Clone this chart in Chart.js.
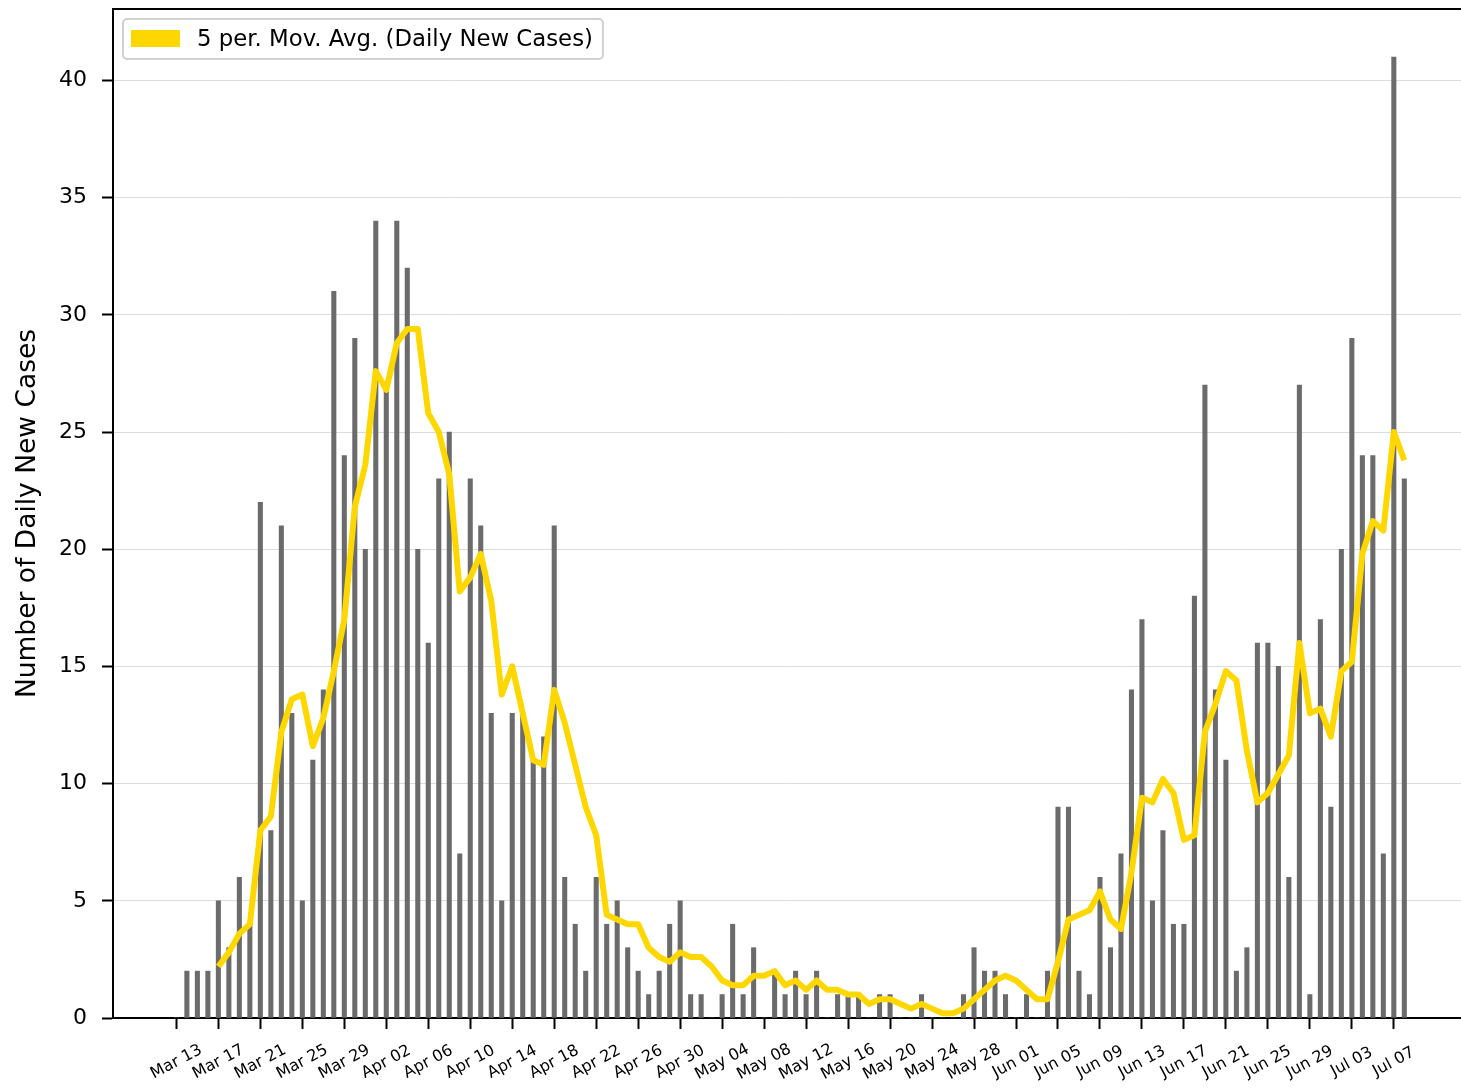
<!DOCTYPE html>
<html lang="en">
<head>
<meta charset="UTF-8">
<title>Daily New Cases</title>
<script src="https://cdn.jsdelivr.net/npm/chart.js"></script>
<style>
  html, body { margin: 0; padding: 0; background: #fff; }
  canvas { display: block; }
</style>
</head>
<body>
<canvas id="casesChart" width="1461" height="1091"></canvas>
<script>
const dates = [
  'Mar 13','Mar 14','Mar 15','Mar 16','Mar 17','Mar 18','Mar 19','Mar 20','Mar 21','Mar 22',
  'Mar 23','Mar 24','Mar 25','Mar 26','Mar 27','Mar 28','Mar 29','Mar 30','Mar 31',
  'Apr 01','Apr 02','Apr 03','Apr 04','Apr 05','Apr 06','Apr 07','Apr 08','Apr 09','Apr 10',
  'Apr 11','Apr 12','Apr 13','Apr 14','Apr 15','Apr 16','Apr 17','Apr 18','Apr 19','Apr 20',
  'Apr 21','Apr 22','Apr 23','Apr 24','Apr 25','Apr 26','Apr 27','Apr 28','Apr 29','Apr 30',
  'May 01','May 02','May 03','May 04','May 05','May 06','May 07','May 08','May 09','May 10',
  'May 11','May 12','May 13','May 14','May 15','May 16','May 17','May 18','May 19','May 20',
  'May 21','May 22','May 23','May 24','May 25','May 26','May 27','May 28','May 29','May 30','May 31',
  'Jun 01','Jun 02','Jun 03','Jun 04','Jun 05','Jun 06','Jun 07','Jun 08','Jun 09','Jun 10',
  'Jun 11','Jun 12','Jun 13','Jun 14','Jun 15','Jun 16','Jun 17','Jun 18','Jun 19','Jun 20',
  'Jun 21','Jun 22','Jun 23','Jun 24','Jun 25','Jun 26','Jun 27','Jun 28','Jun 29','Jun 30',
  'Jul 01','Jul 02','Jul 03','Jul 04','Jul 05','Jul 06','Jul 07','Jul 08'
];

const dailyCases = [
  0, 2, 2, 2, 5, 3, 6, 4, 22, 8,
  21, 13, 5, 11, 14, 31, 24, 29, 20,
  34, 27, 34, 32, 20, 16, 23, 25, 7, 23,
  21, 13, 5, 13, 13, 11, 12, 21, 6, 4,
  2, 6, 4, 5, 3, 2, 1, 2, 4, 5,
  1, 1, 0, 1, 4, 1, 3, 0, 2, 1,
  2, 1, 2, 0, 1, 1, 1, 0, 1, 1,
  0, 0, 1, 0, 0, 0, 1, 3, 2, 2, 1,
  0, 1, 0, 2, 9, 9, 2, 1, 6, 3,
  7, 14, 17, 5, 8, 4, 4, 18, 27, 14,
  11, 2, 3, 16, 16, 15, 6, 27, 1, 17,
  9, 20, 29, 24, 24, 7, 41, 23
];

const movingAvg = [
  null, null, null, null, 2.2, 2.8, 3.6, 4.0, 8.0, 8.6,
  12.2, 13.6, 13.8, 11.6, 12.8, 14.8, 17.0, 21.8, 23.6,
  27.6, 26.8, 28.8, 29.4, 29.4, 25.8, 25.0, 23.2, 18.2, 18.8,
  19.8, 17.8, 13.8, 15.0, 13.0, 11.0, 10.8, 14.0, 12.6, 10.8,
  9.0, 7.8, 4.4, 4.2, 4.0, 4.0, 3.0, 2.6, 2.4, 2.8,
  2.6, 2.6, 2.2, 1.6, 1.4, 1.4, 1.8, 1.8, 2.0, 1.4,
  1.6, 1.2, 1.6, 1.2, 1.2, 1.0, 1.0, 0.6, 0.8, 0.8,
  0.6, 0.4, 0.6, 0.4, 0.2, 0.2, 0.4, 0.8, 1.2, 1.6, 1.8,
  1.6, 1.2, 0.8, 0.8, 2.4, 4.2, 4.4, 4.6, 5.4, 4.2,
  3.8, 6.2, 9.4, 9.2, 10.2, 9.6, 7.6, 7.8, 12.2, 13.4,
  14.8, 14.4, 11.4, 9.2, 9.6, 10.4, 11.2, 16.0, 13.0, 13.2,
  12.0, 14.8, 15.2, 19.8, 21.2, 20.8, 25.0, 23.8
];

const tickLabels = [
  'Mar 13','Mar 17','Mar 21','Mar 25','Mar 29','Apr 02','Apr 06','Apr 10','Apr 14','Apr 18',
  'Apr 22','Apr 26','Apr 30','May 04','May 08','May 12','May 16','May 20','May 24','May 28',
  'Jun 01','Jun 05','Jun 09','Jun 13','Jun 17','Jun 21','Jun 25','Jun 29','Jul 03','Jul 07'
];

const yTicks = [0, 5, 10, 15, 20, 25, 30, 35, 40];

const FONT = 'DejaVu Sans';

const barPoints = dates.map((d, i) => ({ x: i, y: dailyCases[i] }));
const avgPoints = dates.map((d, i) => ({ x: i, y: movingAvg[i] })).filter(p => p.y !== null);

// top spine, rotated date labels and the legend box inside the plot
const decorations = {
  id: 'decorations',
  afterDraw(chart) {
    const ctx = chart.ctx;
    const area = chart.chartArea;
    const xScale = chart.scales.x;
    ctx.save();

    ctx.strokeStyle = '#000';
    ctx.lineWidth = 2;
    ctx.beginPath();
    ctx.moveTo(area.left - 1, area.top);
    ctx.lineTo(area.right, area.top);
    ctx.stroke();

    ctx.fillStyle = '#000';
    ctx.font = '16px "' + FONT + '"';
    ctx.textAlign = 'center';
    ctx.textBaseline = 'middle';
    xScale.ticks.forEach((t, i) => {
      const px = xScale.getPixelForValue(t.value);
      ctx.save();
      ctx.translate(px, area.bottom + 44);
      ctx.rotate(-28 * Math.PI / 180);
      ctx.fillText(tickLabels[i], 0, 0);
      ctx.restore();
    });

    const label = chart.data.datasets[0].label;
    ctx.font = '22.8px "' + FONT + '"';
    const bx = area.left + 10, by = area.top + 10;
    const bw = 74 + ctx.measureText(label).width + 10, bh = 40;
    ctx.beginPath();
    ctx.roundRect(bx, by, bw, bh, 4);
    ctx.fillStyle = 'rgba(255,255,255,0.8)';
    ctx.fill();
    ctx.strokeStyle = '#d0d0d0';
    ctx.lineWidth = 2;
    ctx.stroke();
    ctx.fillStyle = chart.data.datasets[0].borderColor;
    ctx.fillRect(bx + 8, by + 11, 49, 17);
    ctx.fillStyle = '#000';
    ctx.textAlign = 'left';
    ctx.textBaseline = 'middle';
    ctx.fillText(label, bx + 74, by + bh / 2 + 1.5);

    ctx.restore();
  }
};

new Chart(document.getElementById('casesChart'), {
  type: 'bar',
  data: {
    datasets: [
      {
        type: 'line',
        label: '5 per. Mov. Avg. (Daily New Cases)',
        data: avgPoints,
        borderColor: '#FFD700',
        borderWidth: 6,
        pointRadius: 0,
        tension: 0,
        borderJoinStyle: 'round',
        order: 0
      },
      {
        type: 'bar',
        label: 'Daily New Cases',
        data: barPoints,
        backgroundColor: '#6b6b6b',
        barThickness: 4.4,
        order: 1
      }
    ]
  },
  options: {
    responsive: false,
    animation: false,
    devicePixelRatio: 1,
    layout: { padding: { top: 9, left: 0, right: 0, bottom: 0 } },
    plugins: {
      legend: { display: false },
      tooltip: { enabled: false }
    },
    scales: {
      x: {
        type: 'linear',
        min: -6.04,
        max: 122.4,
        offset: false,
        grid: { offset: false, drawOnChartArea: false, drawTicks: true, tickLength: 11, tickWidth: 2, tickColor: '#000' },
        border: { color: '#000', width: 2 },
        ticks: { display: false },
        afterBuildTicks: s => { s.ticks = tickLabels.map(l => ({ value: dates.indexOf(l) })); },
        afterFit: s => { s.height = 73; s.paddingLeft = 0; s.paddingRight = 0; }
      },
      y: {
        min: 0,
        max: 43.05,
        grid: { color: '#dcdcdc', lineWidth: 1, tickLength: 11, tickWidth: 2, tickColor: '#000' },
        border: { color: '#000', width: 2 },
        ticks: { font: { family: FONT, size: 22 }, color: '#000', padding: 15, includeBounds: false },
        afterBuildTicks: s => { s.ticks = yTicks.map(v => ({ value: v })); },
        title: {
          display: true,
          text: 'Number of Daily New Cases',
          font: { family: FONT, size: 26.5 },
          color: '#000',
          padding: { top: 12, bottom: 0 }
        },
        afterFit: s => { s.width = 113; s.paddingTop = 0; s.paddingBottom = 0; }
      }
    }
  },
  plugins: [decorations]
});
</script>
</body>
</html>
